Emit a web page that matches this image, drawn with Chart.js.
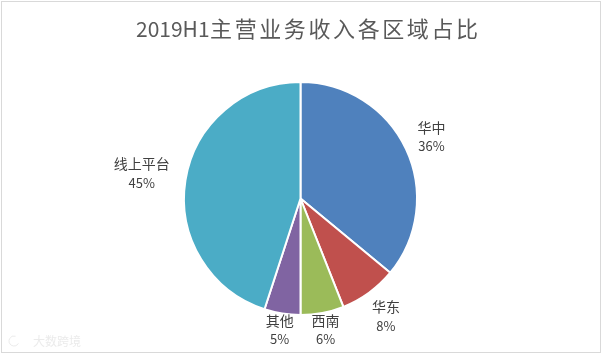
<!DOCTYPE html>
<html>
<head>
<meta charset="utf-8">
<script src="https://cdn.jsdelivr.net/npm/chart.js@4.4.1/dist/chart.umd.min.js"></script>
<style>
html,body{margin:0;padding:0;background:#fff;}
#wrap{width:602px;height:355px;position:relative;}
</style>
</head>
<body>
<div id="wrap"><canvas id="c" width="602" height="355"></canvas></div>
<script>
const titleLatin = "2019H1";
const titleCJK = "主营业务收入各区域占比";
const categories = ["华中", "华东", "西南", "其他", "线上平台"];
const values = [36, 8, 6, 5, 45];
const colors = ["#4F81BD", "#C0504D", "#9BBB59", "#8064A2", "#4BACC6"];
const labelRadiusFactor = [1.242, 1.248, 1.147, 1.141, 1.379];
const watermark = "大数跨境";

const FONT = "'Noto Sans CJK SC', 'Noto Sans', sans-serif";

const decorPlugin = {
  id: 'decor',
  beforeDraw(chart) {
    const ctx = chart.ctx;
    ctx.save();
    ctx.fillStyle = '#ffffff';
    ctx.fillRect(0, 0, chart.width, chart.height);
    ctx.strokeStyle = '#D9D9D9';
    ctx.lineWidth = 1;
    ctx.strokeRect(1.5, 1.5, 599, 351);
    // title
    ctx.fillStyle = '#595959';
    ctx.font = "21px " + FONT;
    ctx.textBaseline = 'middle';
    ctx.textAlign = 'left';
    const startX = 136, cy = 29;
    ctx.fillText(titleLatin, startX, cy);
    const wl = ctx.measureText(titleLatin).width;
    let x = startX + wl + 0.5;
    ctx.font = "22px " + FONT;
    const adv = 24.6;
    for (const ch of titleCJK) {
      ctx.fillText(ch, x, cy);
      x += adv;
    }
    // watermark
    ctx.fillStyle = 'rgba(215,215,215,0.5)';
    ctx.font = "12px " + FONT;
    ctx.fillText(watermark, 33, 341);
    ctx.beginPath();
    ctx.strokeStyle = 'rgba(215,215,215,0.5)';
    ctx.arc(14, 341, 5, 0.5, Math.PI * 1.6);
    ctx.stroke();
    ctx.restore();
  },
  afterDatasetsDraw(chart) {
    const ctx = chart.ctx;
    const meta = chart.getDatasetMeta(0);
    const total = values.reduce((a, b) => a + b, 0);
    ctx.save();
    ctx.fillStyle = '#404040';
    ctx.textAlign = 'center';
    ctx.textBaseline = 'middle';
    meta.data.forEach((arc, i) => {
      const p = arc.getProps(['x', 'y', 'startAngle', 'endAngle', 'outerRadius'], true);
      const mid = (p.startAngle + p.endAngle) / 2;
      const r = p.outerRadius * labelRadiusFactor[i];
      const lx = p.x + Math.cos(mid) * r;
      const ly = p.y + Math.sin(mid) * r;
      ctx.font = "14px " + FONT;
      ctx.fillText(categories[i], lx, ly - 9.5);
      ctx.font = "13px " + FONT;
      ctx.fillText(Math.round(values[i] / total * 100) + '%', lx, ly + 9.5);
    });
    ctx.restore();
  }
};

new Chart(document.getElementById('c'), {
  type: 'pie',
  data: {
    labels: categories,
    datasets: [{
      data: values,
      backgroundColor: colors,
      borderColor: '#ffffff',
      borderWidth: 2
    }]
  },
  options: {
    responsive: false,
    devicePixelRatio: 1,
    animation: false,
    layout: { padding: { top: 81, bottom: 39, left: 0, right: 1 } },
    plugins: {
      legend: { display: false },
      tooltip: { enabled: false },
      title: { display: false }
    }
  },
  plugins: [decorPlugin]
});
</script>
</body>
</html>
